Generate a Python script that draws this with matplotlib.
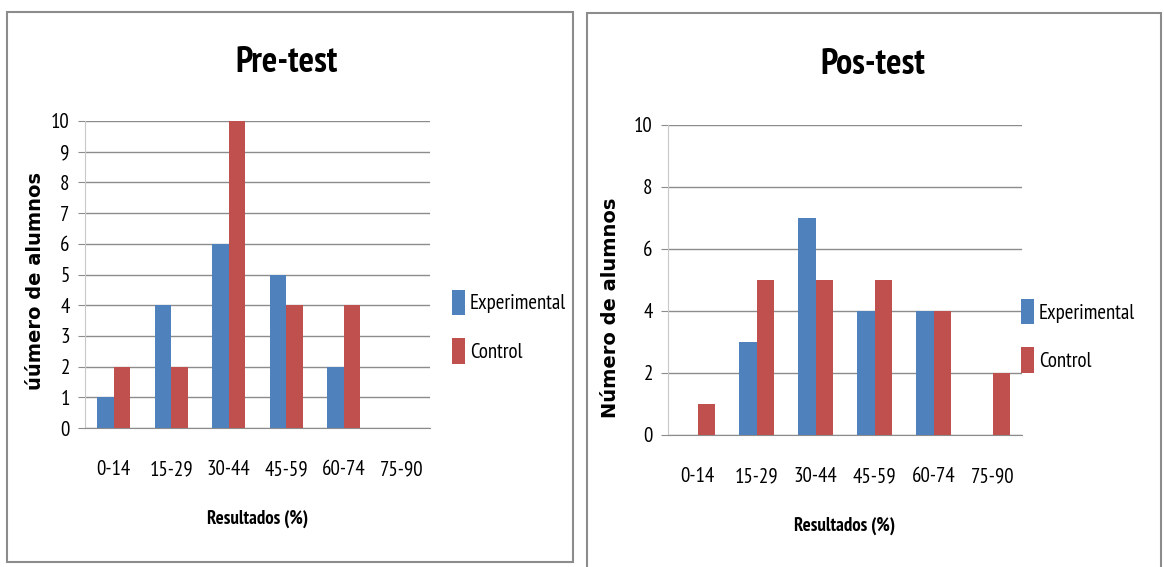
import matplotlib.pyplot as plt
import numpy as np
from matplotlib import font_manager
from matplotlib.patches import Rectangle

# data
rangos = ['0-14', '15-29', '30-44', '45-59', '60-74', '75-90']
pre_experimental = [1, 4, 6, 5, 2, 0]
pre_control = [2, 2, 10, 4, 4, 0]
pos_experimental = [0, 3, 7, 4, 4, 0]
pos_control = [1, 5, 5, 5, 4, 2]

azul = '#4F81BD'
rojo = '#C0504D'

# pick a narrow, Calibri-like face if one is installed
installed = set(f.name for f in font_manager.fontManager.ttflist)
narrow_face = 'DejaVu Sans'
for cand in ['PT Sans Narrow', 'Archivo Narrow', 'Roboto Condensed', 'Liberation Sans Narrow', 'Carlito']:
    if cand in installed:
        narrow_face = cand
        break
narrow = [narrow_face, 'DejaVu Sans']

fig = plt.figure(figsize=(11.64, 5.67), dpi=100)

# panel frames
W, H = 1164, 567
fig.patches.append(Rectangle((7 / W, 1 - 562 / H), 566 / W, 550 / H, transform=fig.transFigure,
                             fill=False, edgecolor='#8c8c8c', linewidth=1.5))
fig.patches.append(Rectangle((587 / W, -0.01), 574 / W, 1 - 13 / H + 0.01, transform=fig.transFigure,
                             fill=False, edgecolor='#8c8c8c', linewidth=1.5))


def panel(rect, exp, ctl, titulo, ylabel, yticks, title_xy, legend_xy, ylab_pos):
    ax = fig.add_axes(rect)
    x = np.arange(len(rangos))
    w = 0.29
    ax.bar(x - w / 2, exp, w, color=azul, label='Experimental', zorder=3)
    ax.bar(x + w / 2, ctl, w, color=rojo, label='Control', zorder=3)
    ax.set_xlim(-0.5, len(rangos) - 0.5)
    ax.set_ylim(0, 10)
    ax.set_yticks(yticks)
    ax.set_yticklabels([str(t) for t in yticks], family=narrow, fontsize=15)
    ax.set_xticks(x)
    ax.set_xticklabels(rangos, family=narrow, fontsize=15)
    ax.tick_params(axis='x', length=0, pad=23)
    ax.tick_params(axis='y', length=5, color='#8c8c8c', pad=6)
    ax.grid(axis='y', color='#8c8c8c', linewidth=1, zorder=0)
    for s in ['top', 'right']:
        ax.spines[s].set_visible(False)
    ax.spines['left'].set_color('#c8c8c8')
    ax.spines['bottom'].set_color('#8c8c8c')
    ax.set_xlabel('Resultados (%)', family=narrow, fontsize=13.5, fontweight='bold', labelpad=22)
    ax.set_ylabel(ylabel, fontsize=14, fontweight='bold', va='center')
    ax.yaxis.set_label_coords(*ylab_pos)
    fig.text(title_xy[0] / W, 1 - title_xy[1] / H, titulo, family=narrow, fontsize=26,
             fontweight='bold', ha='center', va='center')
    ax.legend(loc='center left', bbox_to_anchor=legend_xy, frameon=False,
              prop={'family': narrow, 'size': 15}, handlelength=0.6, handleheight=1.5,
              handletextpad=0.25, labelspacing=1.1)
    return ax


ax1 = panel([85 / W, 1 - 428 / H, 345 / W, 307 / H], pre_experimental, pre_control,
            'Pre-test', 'úúmero de alumnos', list(range(0, 11)), (287, 62), (1.01, 0.33),
            ((36 - 85) / 345, 0.48))
ax2 = panel([668 / W, 1 - 435 / H, 354 / W, 310 / H], pos_experimental, pos_control,
            'Pos-test', 'Número de alumnos', list(range(0, 11, 2)), (873, 64), (0.945, 0.32),
            ((610 - 668) / 354, 0.41))

fig.savefig('out.png', dpi=100)
